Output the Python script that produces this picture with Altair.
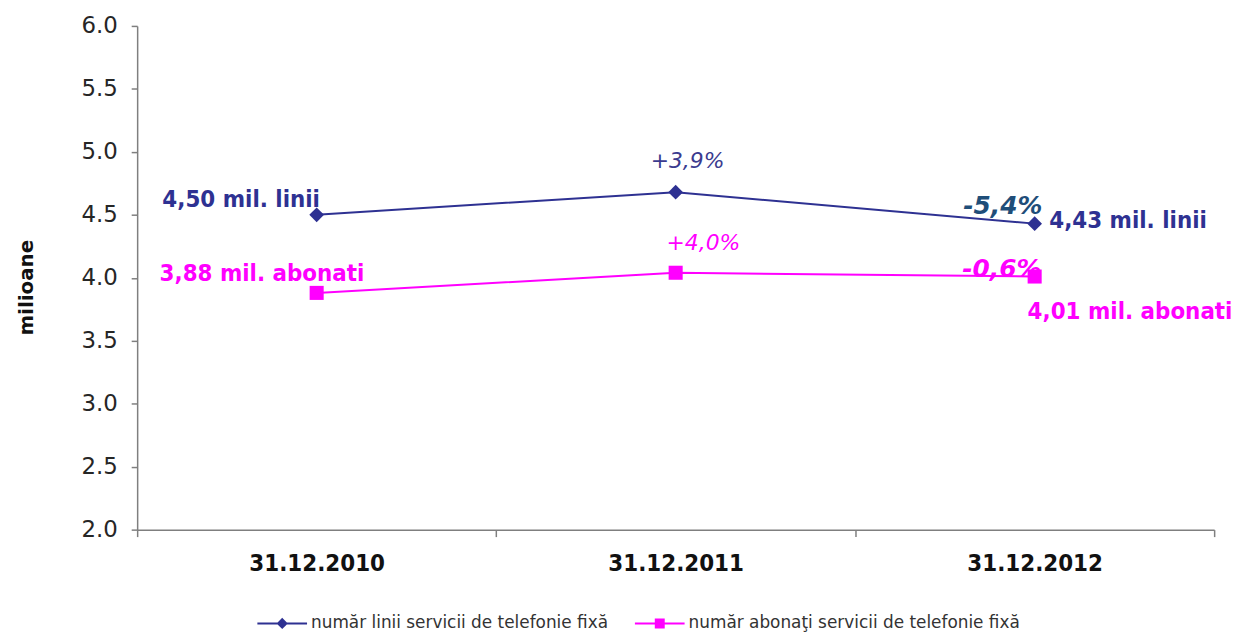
import altair as alt
import pandas as pd

# ---------------- data ----------------
dates = ["31.12.2010", "31.12.2011", "31.12.2012"]
series_names = [
    "număr linii servicii de telefonie fixă",
    "număr abonaţi servicii de telefonie fixă",
]
lines_vals = [4.50, 4.68, 4.43]
subs_vals = [3.88, 4.04, 4.01]

lines_level_labels = ["4,50 mil. linii", "4,43 mil. linii"]   # at 2010, 2012
lines_change_labels = ["+3,9%", "-5,4%"]                      # at 2011, 2012
subs_level_labels = ["3,88 mil. abonati", "4,01 mil. abonati"]  # at 2010, 2012
subs_change_labels = ["+4,0%", "-0,6%"]                       # at 2011, 2012

y_ticks = [2.0, 2.5, 3.0, 3.5, 4.0, 4.5, 5.0, 5.5, 6.0]

NAVY = "#2E3192"
MAGENTA = "#FF00FF"
TEAL = "#1F4E79"

df = pd.DataFrame({
    "date": dates * 2,
    "value": lines_vals + subs_vals,
    "series": [series_names[0]] * 3 + [series_names[1]] * 3,
})

xenc = alt.X(
    "date:N",
    sort=dates,
    scale=alt.Scale(type="band", domain=dates, paddingInner=0, paddingOuter=0),
    axis=alt.Axis(
        title=None,
        tickBand="extent",
        domainColor="#7f7f7f",
        domainWidth=1.5,
        tickColor="#7f7f7f",
        tickWidth=1.5,
        tickSize=7,
        labelAngle=0,
        labelFont="DejaVu Sans Condensed",
        labelFontWeight="bold",
        labelFontSize=24,
        labelColor="#111111",
        labelBaseline="alphabetic",
        labelPadding=34,
    ),
)
yenc = alt.Y(
    "value:Q",
    scale=alt.Scale(domain=[2, 6], nice=False, zero=False),
    axis=alt.Axis(
        values=y_ticks,
        format=".1f",
        grid=False,
        domainColor="#7f7f7f",
        domainWidth=1.5,
        tickColor="#7f7f7f",
        tickWidth=1.5,
        tickSize=6,
        labelFont="DejaVu Sans",
        labelFontSize=23,
        labelColor="#262626",
        labelPadding=14,
        title="milioane",
        titleFont="DejaVu Sans",
        titleFontSize=20,
        titleFontWeight="bold",
        titleColor="#111111",
        titleX=-105,
        titleY=263,
        titleBaseline="alphabetic",
    ),
)

color_scale = alt.Scale(domain=series_names, range=[NAVY, MAGENTA])

base = alt.Chart(df)

lines = base.mark_line(strokeWidth=2).encode(
    x=xenc, y=yenc, color=alt.Color("series:N", scale=color_scale, legend=None)
)
pts_lines = base.transform_filter(alt.datum.series == series_names[0]).mark_point(
    shape="diamond", filled=True, size=220, opacity=1, color=NAVY
).encode(x=xenc, y=yenc)
pts_subs = base.transform_filter(alt.datum.series == series_names[1]).mark_point(
    shape="square", filled=True, size=200, opacity=1, color=MAGENTA
).encode(x=xenc, y=yenc)

# invisible layer that only provides the legend (line + marker symbols)
legend_def = alt.Legend(
    title=None,
    orient="none",
    legendX=120,
    legendY=575,
    direction="horizontal",
    labelFont="DejaVu Sans",
    labelFontSize=17,
    labelColor="#333333",
    labelLimit=500,
    symbolSize=2500,
    symbolStrokeWidth=2,
    symbolOpacity=1,
    labelOffset=3,
    columnPadding=22,
)
shape_scale = alt.Scale(
    domain=series_names,
    range=[
        "M-1,0H1M0,-0.17L0.17,0L0,0.17L-0.17,0Z",
        "M-1,0H1M-0.16,-0.16H0.16V0.16H-0.16Z",
    ],
)
legend_layer = base.mark_point(
    filled=True, size=2500, strokeWidth=2, opacity=0
).encode(
    x=xenc,
    y=yenc,
    fill=alt.Fill("series:N", scale=alt.Scale(domain=series_names, range=[NAVY, MAGENTA]), legend=legend_def),
    stroke=alt.Stroke("series:N", scale=alt.Scale(domain=series_names, range=[NAVY, MAGENTA]), legend=legend_def),
    shape=alt.Shape("series:N", scale=shape_scale, legend=legend_def),
)


def label(date, value, text, color, dx, dy, font, size, weight="bold", style="normal"):
    d = pd.DataFrame({"date": [date], "value": [value], "text": [text]})
    return alt.Chart(d).mark_text(
        dx=dx, dy=dy, align="center", baseline="alphabetic",
        font=font, fontSize=size, fontWeight=weight, fontStyle=style, color=color,
    ).encode(x=xenc, y=yenc, text="text:N")


texts = [
    label(dates[0], lines_vals[0], lines_level_labels[0], NAVY, -76, -8, "DejaVu Sans Condensed", 24),
    label(dates[2], lines_vals[2], lines_level_labels[1], NAVY, 94, 4, "DejaVu Sans Condensed", 24),
    label(dates[1], lines_vals[1], lines_change_labels[0], "#3B3B8F", 12, -24, "DejaVu Sans", 22, "normal", "italic"),
    label(dates[2], lines_vals[2], lines_change_labels[1], TEAL, -32, -10, "DejaVu Sans", 25, "bold", "italic"),
    label(dates[0], subs_vals[0], subs_level_labels[0], MAGENTA, -55, -12, "DejaVu Sans Condensed", 24),
    label(dates[2], subs_vals[2], subs_level_labels[1], MAGENTA, 96, 43, "DejaVu Sans Condensed", 24),
    label(dates[1], subs_vals[1], subs_change_labels[0], MAGENTA, 28, -23, "DejaVu Sans", 22, "normal", "italic"),
    label(dates[2], subs_vals[2], subs_change_labels[1], MAGENTA, -33, 0, "DejaVu Sans", 25, "bold", "italic"),
]

chart = alt.layer(legend_layer, lines, pts_lines, pts_subs, *texts).properties(
    width=1084,
    height=507,
    autosize=alt.AutoSizeParams(type="none"),
    padding={"left": 130, "top": 16, "right": 23, "bottom": 103},
    background="white",
).configure_view(stroke=None)

chart.save("out.html", embed_options={"renderer": "svg", "actions": False})
